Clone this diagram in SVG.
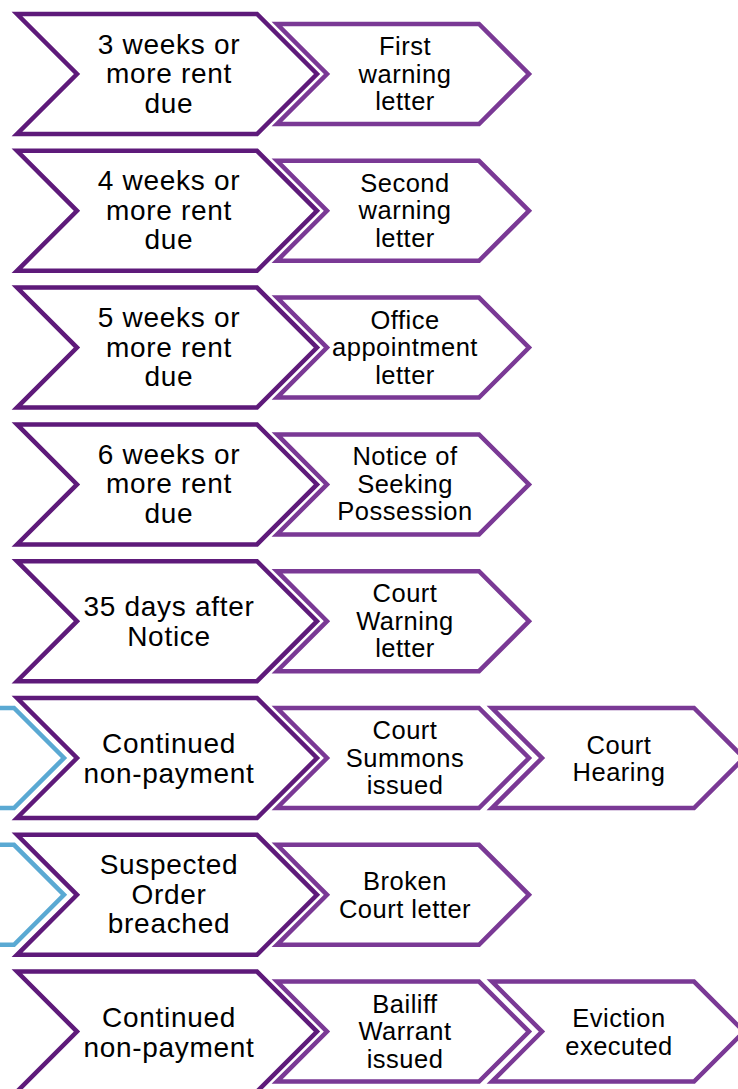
<svg xmlns="http://www.w3.org/2000/svg" width="738" height="1089" viewBox="0 0 738 1089">
<defs>
<style>
.big{fill:#fff;stroke:#5e1a7a;stroke-width:4.5;stroke-linejoin:miter}
.sm{fill:#fff;stroke:#7a3995;stroke-width:4.5;stroke-linejoin:miter}
.blue{fill:#fff;stroke:#5aa9d3;stroke-width:4.5;stroke-linejoin:miter}
text{font-family:"Liberation Sans",Arial,sans-serif;fill:#000;text-anchor:middle}
.tb{font-size:28px;letter-spacing:0.7px}
.ts{font-size:25.5px;letter-spacing:0.5px}
</style>
<path id="pBig" d="M17,-60 L257,-60 L317,0 L257,60 L17,60 L77,0 Z"/>
<path id="pSm" d="M277,-50 L479,-50 L529,0 L479,50 L277,50 L327,0 Z"/>
<path id="pTh" d="M492,-50 L694,-50 L744,0 L694,50 L492,50 L542,0 Z"/>
<path id="pBl" d="M-200,-50 L14,-50 L64,0 L14,50 L-200,50 L-150,0 Z"/>
</defs>
<rect width="738" height="1089" fill="#fff"/>

<g id="row1" transform="translate(0,74)">
<g id="n1a"><use href="#pBig" class="big"/><text class="tb" x="169" y="-20.5">3 weeks or</text><text class="tb" x="169" y="9">more rent</text><text class="tb" x="169" y="38.5">due</text></g>
<g id="n1b"><use href="#pSm" class="sm"/><text class="ts" x="405" y="-19">First</text><text class="ts" x="405" y="8.5">warning</text><text class="ts" x="405" y="36">letter</text></g>
</g>

<g id="row2" transform="translate(0,210.8)">
<g id="n2a"><use href="#pBig" class="big"/><text class="tb" x="169" y="-20.5">4 weeks or</text><text class="tb" x="169" y="9">more rent</text><text class="tb" x="169" y="38.5">due</text></g>
<g id="n2b"><use href="#pSm" class="sm"/><text class="ts" x="405" y="-19">Second</text><text class="ts" x="405" y="8.5">warning</text><text class="ts" x="405" y="36">letter</text></g>
</g>

<g id="row3" transform="translate(0,347.6)">
<g id="n3a"><use href="#pBig" class="big"/><text class="tb" x="169" y="-20.5">5 weeks or</text><text class="tb" x="169" y="9">more rent</text><text class="tb" x="169" y="38.5">due</text></g>
<g id="n3b"><use href="#pSm" class="sm"/><text class="ts" x="405" y="-19">Office</text><text class="ts" x="405" y="8.5">appointment</text><text class="ts" x="405" y="36">letter</text></g>
</g>

<g id="row4" transform="translate(0,484.4)">
<g id="n4a"><use href="#pBig" class="big"/><text class="tb" x="169" y="-20.5">6 weeks or</text><text class="tb" x="169" y="9">more rent</text><text class="tb" x="169" y="38.5">due</text></g>
<g id="n4b"><use href="#pSm" class="sm"/><text class="ts" x="405" y="-19">Notice of</text><text class="ts" x="405" y="8.5">Seeking</text><text class="ts" x="405" y="36">Possession</text></g>
</g>

<g id="row5" transform="translate(0,621.2)">
<g id="n5a"><use href="#pBig" class="big"/><text class="tb" x="169" y="-5">35 days after</text><text class="tb" x="169" y="25">Notice</text></g>
<g id="n5b"><use href="#pSm" class="sm"/><text class="ts" x="405" y="-19">Court</text><text class="ts" x="405" y="8.5">Warning</text><text class="ts" x="405" y="36">letter</text></g>
</g>

<g id="row6" transform="translate(0,758)">
<g id="n6blue"><use href="#pBl" class="blue"/></g>
<g id="n6a"><use href="#pBig" class="big"/><text class="tb" x="169" y="-5">Continued</text><text class="tb" x="169" y="25">non-payment</text></g>
<g id="n6b"><use href="#pSm" class="sm"/><text class="ts" x="405" y="-19">Court</text><text class="ts" x="405" y="8.5">Summons</text><text class="ts" x="405" y="36">issued</text></g>
<g id="n6c"><use href="#pTh" class="sm"/><text class="ts" x="619" y="-4.5">Court</text><text class="ts" x="619" y="23">Hearing</text></g>
</g>

<g id="row7" transform="translate(0,894.8)">
<g id="n7blue"><use href="#pBl" class="blue"/></g>
<g id="n7a"><use href="#pBig" class="big"/><text class="tb" x="169" y="-20.5">Suspected</text><text class="tb" x="169" y="9">Order</text><text class="tb" x="169" y="38.5">breached</text></g>
<g id="n7b"><use href="#pSm" class="sm"/><text class="ts" x="405" y="-4.5">Broken</text><text class="ts" x="405" y="23">Court letter</text></g>
</g>

<g id="row8" transform="translate(0,1031.6)">
<g id="n8a"><use href="#pBig" class="big"/><text class="tb" x="169" y="-5">Continued</text><text class="tb" x="169" y="25">non-payment</text></g>
<g id="n8b"><use href="#pSm" class="sm"/><text class="ts" x="405" y="-19">Bailiff</text><text class="ts" x="405" y="8.5">Warrant</text><text class="ts" x="405" y="36">issued</text></g>
<g id="n8c"><use href="#pTh" class="sm"/><text class="ts" x="619" y="-4.5">Eviction</text><text class="ts" x="619" y="23">executed</text></g>
</g>

<g id="connectors"></g>
</svg>
